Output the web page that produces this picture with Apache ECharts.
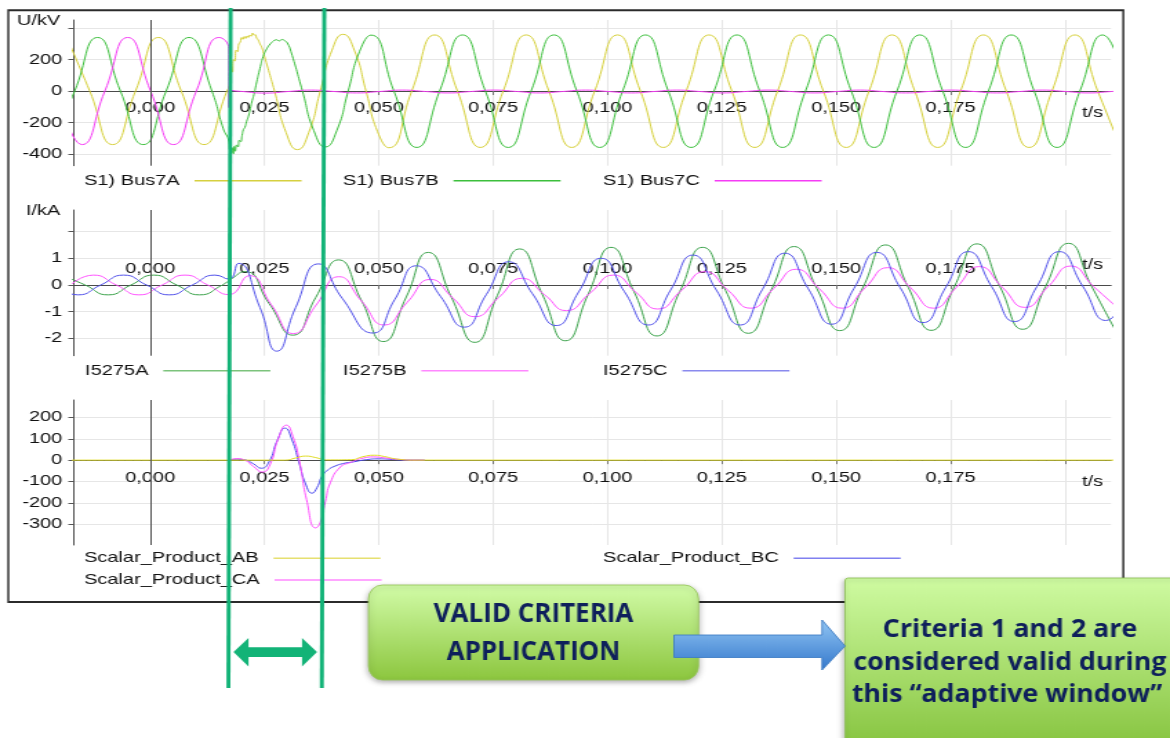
<!DOCTYPE html>
<html>
<head>
<meta charset="utf-8">
<script src="https://cdn.jsdelivr.net/npm/echarts@6/dist/echarts.min.js"></script>
<style>
  html, body { margin: 0; padding: 0; background: #fff; overflow: hidden; }
  #wrap { width: 1170px; height: 738px; overflow: hidden; position: relative; }
  /* the recorder screenshot is stretched horizontally, so the chart layer is too */
  #chart { width: 848px; height: 738px; transform: scaleX(1.379717); transform-origin: 0 0; }
</style>
</head>
<body>
<div id="wrap"><div id="chart"></div></div>
<script>
// ---- axis ticks and labels ----
const timeTicks  = [0, 0.025, 0.05, 0.075, 0.1, 0.125, 0.15, 0.175, 0.2];
const timeLabels = [0, 0.025, 0.05, 0.075, 0.1, 0.125, 0.15, 0.175];
const voltTicks  = [-400, -200, 0, 200, 400];
const voltLabels = [-400, -200, 0, 200];
const ampTicks   = [-2, -1, 0, 1, 2];
const ampLabels  = [-2, -1, 0, 1];
const prodTicks  = [-300, -200, -100, 0, 100, 200];

// ---- bus voltages, kV  [t (s), u] ----
const bus7A = [
  [-0.0182, 340], [-0.0132, 0], [-0.0082, -340], [-0.0032, 0], [0.0018, 340], [0.0068, 0], [0.0118, -340], [0.0168, 0],
  [0.0172, 25], [0.0175, 60], [0.0178, 150], [0.0180, 120], [0.0182, 200], [0.0185, 190], [0.0188, 260], [0.0191, 250],
  [0.0194, 300], [0.0197, 310], [0.0200, 340], [0.0203, 328], [0.0206, 346], [0.0209, 334], [0.0212, 350], [0.0215, 340],
  [0.0218, 356], [0.0221, 348], [0.0224, 368], [0.0227, 355], [0.0230, 358], [0.0233, 335], [0.0236, 326], [0.0240, 300],
  [0.0244, 278], [0.0248, 240],
  [0.0272, 0], [0.0297, -262], [0.0322, -372], [0.0347, -262], [0.0372, 0], [0.0397, 255], [0.0422, 360], [0.0447, 255],
  [0.0472, 0], [0.0497, -256], [0.0522, -360],
  [0.0572, 0], [0.0622, 356], [0.0672, 0], [0.0722, -358], [0.0772, 0], [0.0822, 356], [0.0872, 0], [0.0922, -358],
  [0.0972, 0], [0.1022, 356], [0.1072, 0], [0.1122, -358], [0.1172, 0], [0.1222, 356], [0.1272, 0], [0.1322, -358],
  [0.1372, 0], [0.1422, 356], [0.1472, 0], [0.1522, -358], [0.1572, 0], [0.1622, 356], [0.1672, 0], [0.1722, -358],
  [0.1772, 0], [0.1822, 356], [0.1872, 0], [0.1922, -358], [0.1972, 0], [0.2022, 356], [0.2072, 0], [0.2122, -358]
];
const bus7B = [
  [-0.0215, -340], [-0.0165, 0], [-0.0115, 340], [-0.0065, 0], [-0.0015, -340], [0.0035, 0], [0.0085, 340], [0.0135, 0],
  [0.0160, -240], [0.0172, -318],
  [0.0174, -372], [0.0176, -346], [0.0178, -392], [0.0180, -360], [0.0182, -398], [0.0184, -352], [0.0186, -382],
  [0.0189, -342], [0.0192, -355], [0.0195, -312], [0.0198, -322], [0.0201, -282], [0.0204, -244], [0.0207, -232],
  [0.0211, -192], [0.0215, -160], [0.0219, -112], [0.0223, -62], [0.0227, -22], [0.0233, 58], [0.0240, 142],
  [0.0247, 218], [0.0255, 268], [0.0263, 300], [0.0270, 318], [0.0276, 326], [0.0282, 318], [0.0288, 327],
  [0.0294, 320], [0.0300, 305],
  [0.0308, 250], [0.0333, 0], [0.0358, -252], [0.0383, -355], [0.0408, -252], [0.0433, 0], [0.0458, 252], [0.0483, 355],
  [0.0533, 0], [0.0583, -358], [0.0633, 0], [0.0683, 356], [0.0733, 0], [0.0783, -358], [0.0833, 0], [0.0883, 356],
  [0.0933, 0], [0.0983, -358], [0.1033, 0], [0.1083, 356], [0.1133, 0], [0.1183, -358], [0.1233, 0], [0.1283, 356],
  [0.1333, 0], [0.1383, -358], [0.1433, 0], [0.1483, 356], [0.1533, 0], [0.1583, -358], [0.1633, 0], [0.1683, 356],
  [0.1733, 0], [0.1783, -358], [0.1833, 0], [0.1883, 356], [0.1933, 0], [0.1983, -358], [0.2033, 0], [0.2083, 356],
  [0.2133, 0]
];
const bus7C = [
  [-0.0199, 0], [-0.0149, -340], [-0.0099, 0], [-0.0049, 340], [0.0001, 0], [0.0051, -340], [0.0101, 0], [0.0151, 340],
  [0.0172, 268], [0.01722, -105], [0.0174, 8], [0.0178, 4],
  [0.0202, -3], [0.0252, -13], [0.0302, -3], [0.0352, 6], [0.0402, -3], [0.0452, -12], [0.0502, -3], [0.0552, 6],
  [0.0602, -3], [0.0652, -12], [0.0702, -3], [0.0752, 6], [0.0802, -3], [0.0852, -12], [0.0902, -3], [0.0952, 6],
  [0.1002, -3], [0.1052, -12], [0.1102, -3], [0.1152, 6], [0.1202, -3], [0.1252, -12], [0.1302, -3], [0.1352, 6],
  [0.1402, -3], [0.1452, -12], [0.1502, -3], [0.1552, 6], [0.1602, -3], [0.1652, -12], [0.1702, -3], [0.1752, 6],
  [0.1802, -3], [0.1852, -12], [0.1902, -3], [0.1952, 6], [0.2002, -3], [0.2052, -12], [0.2102, -3], [0.2152, 6]
];

// ---- line currents, kA  [t (s), i] ----
const i5275A = [
  [-0.0192, 0.37], [-0.0142, 0], [-0.0092, -0.37], [-0.0042, 0], [0.0008, 0.37], [0.0058, 0], [0.0108, -0.37],
  [0.0158, 0], [0.0172, 0.16],
  [0.0207, 0.5], [0.0260, -0.69], [0.0312, -1.88], [0.0362, -0.47], [0.0412, 0.94], [0.0462, -0.58], [0.0510, -2.12],
  [0.0560, -0.45], [0.0608, 1.22], [0.0659, -0.47], [0.0710, -2.15], [0.0759, -0.4], [0.0808, 1.35], [0.0858, -0.37],
  [0.0908, -2.09], [0.0958, -0.34], [0.1008, 1.41], [0.1058, -0.25], [0.1108, -1.91], [0.1158, -0.25], [0.1208, 1.41],
  [0.1258, -0.2], [0.1308, -1.81], [0.1358, -0.19], [0.1408, 1.44], [0.1458, -0.14], [0.1508, -1.71], [0.1558, -0.11],
  [0.1608, 1.5], [0.1658, -0.1], [0.1708, -1.7], [0.1758, -0.08], [0.1808, 1.54], [0.1858, -0.06], [0.1908, -1.66],
  [0.1958, -0.05], [0.2008, 1.56], [0.2058, -0.03], [0.2108, -1.62]
];
const i5275B = [
  [-0.0174, 0], [-0.0124, 0.37], [-0.0074, 0], [-0.0024, -0.37], [0.0026, 0], [0.0076, 0.37], [0.0126, 0],
  [0.0172, -0.36],
  [0.0217, 0.35], [0.0265, -0.74], [0.0313, -1.82], [0.0363, -0.75], [0.0413, 0.31], [0.0462, -0.6], [0.0512, -1.5],
  [0.0562, -0.65], [0.0613, 0.21], [0.0662, -0.49], [0.0710, -1.19], [0.0762, -0.47], [0.0813, 0.25], [0.0862, -0.36],
  [0.0910, -0.96], [0.0962, -0.3], [0.1013, 0.37], [0.1062, -0.27], [0.1110, -0.9], [0.1162, -0.2], [0.1213, 0.5],
  [0.1263, -0.19], [0.1313, -0.87], [0.1363, -0.14], [0.1413, 0.59], [0.1463, -0.14], [0.1513, -0.87], [0.1563, -0.11],
  [0.1613, 0.65], [0.1663, -0.11], [0.1713, -0.87], [0.1763, -0.09], [0.1813, 0.69], [0.1863, -0.08], [0.1913, -0.84],
  [0.1963, -0.07], [0.2013, 0.71], [0.2063, -0.06], [0.2113, -0.82]
];
const i5275C = [
  [-0.0208, 0], [-0.0158, -0.37], [-0.0108, 0], [-0.0058, 0.37], [-0.0008, 0], [0.0042, -0.37], [0.0092, 0],
  [0.0142, 0.37], [0.0172, 0.22],
  [0.0193, 0.81], [0.0240, -0.84], [0.0277, -2.48], [0.0318, -0.85], [0.0368, 0.79], [0.0420, -0.5], [0.0487, -1.8],
  [0.0535, -0.54], [0.0582, 0.72], [0.0635, -0.43], [0.0687, -1.58], [0.0735, -0.36], [0.0784, 0.87], [0.0836, -0.33],
  [0.0888, -1.52], [0.0937, -0.26], [0.0986, 1.0], [0.1037, -0.25], [0.1089, -1.5], [0.1138, -0.19], [0.1187, 1.12],
  [0.1238, -0.19], [0.1290, -1.5], [0.1339, -0.16], [0.1388, 1.19], [0.1439, -0.14], [0.1490, -1.47], [0.1539, -0.13],
  [0.1589, 1.22], [0.1640, -0.1], [0.1690, -1.41], [0.1740, -0.08], [0.1789, 1.25], [0.1840, -0.06], [0.1890, -1.37],
  [0.1939, -0.06], [0.1988, 1.25], [0.2039, -0.04], [0.2090, -1.33], [0.2140, -0.04]
];

// ---- scalar products  [t (s), p] ----
const scalarAB = [
  [-0.02, 0], [0.0295, 0], [0.0318, 10], [0.0340, 19], [0.0362, 12], [0.0385, 1], [0.0440, 2], [0.0465, 16],
  [0.0490, 23], [0.0512, 17], [0.0540, 5], [0.0580, 0], [0.215, 0]
];
const scalarBC = [
  [0.0172, 0], [0.0188, 4], [0.0205, 2], [0.0225, -16], [0.0243, -38], [0.0260, -8], [0.0278, 92], [0.0295, 150],
  [0.0310, 96], [0.0325, -8], [0.0340, -112], [0.0354, -155], [0.0365, -128], [0.0376, -75], [0.0390, -44],
  [0.0402, -30], [0.0422, -16], [0.0445, -8], [0.0472, 2], [0.0500, 6], [0.0530, 3], [0.0560, 0], [0.0600, 0]
];
const scalarCA = [
  [0.0172, 0], [0.0190, 7], [0.0207, 0], [0.0226, -30], [0.0245, -56], [0.0262, -22], [0.0280, 100], [0.0298, 164],
  [0.0312, 112], [0.0326, 0], [0.0342, -185], [0.0362, -318], [0.0372, -292], [0.0383, -196], [0.0394, -106],
  [0.0416, -32], [0.0437, -12], [0.0467, 10], [0.0488, 15], [0.0510, 11], [0.0540, 4], [0.0580, 0], [0.0600, 0]
];

// ---- layout helpers ----
const S = 1170 / 848;            // horizontal stretch of the chart layer
const px = v => v / S;           // page x -> chart x
const FONT = '"Liberation Sans", Arial, sans-serif';
const BOXFONT = '"Open Sans", "Noto Sans", sans-serif';
const INK = '#0e1f5b';
const EDGE = '#12b377';
const GRID_L = px(73.3), GRID_R = 848 - px(1111);

// panel frames: [top, height, yMin, yMax]
const panels = [
  [20, 145.7, -474, 451],
  [210, 145.7, -2.65, 2.81],
  [400, 145, -398, 282]
];
// distance from the grid bottom up to the zero line, used to lift each time axis onto u = 0
const zeroLift = panels.map(([top, h, lo, hi]) => -(h * (0 - lo) / (hi - lo)));

const chart = echarts.init(document.getElementById('chart'), null, { renderer: 'canvas' });

function timeAxis(gi, margin, inside, nameVAlign, namePad) {
  return {
    type: 'value', gridIndex: gi, min: -0.0168, max: 0.2101, position: 'bottom', offset: zeroLift[gi],
    axisLine: { onZero: false, lineStyle: { color: '#4a4a4a', width: 1 } },
    axisTick: { show: true, customValues: timeTicks, length: 4, lineStyle: { color: '#777' } },
    axisLabel: {
      customValues: timeLabels, inside: inside, margin: margin, color: '#111',
      fontFamily: FONT, fontSize: 14.5, formatter: v => v.toFixed(3).replace('.', ',')
    },
    splitLine: { show: true, lineStyle: { color: '#e6e6e6', width: 1 } },
    name: 't/s', nameLocation: 'end', nameGap: -5.8, nameMoveOverlap: false,
    nameTextStyle: { fontFamily: FONT, fontSize: 14.5, color: '#111', align: 'right', verticalAlign: nameVAlign, padding: namePad }
  };
}

function valueAxis(gi, ticks, labels, name) {
  const [, , lo, hi] = panels[gi];
  return {
    type: 'value', gridIndex: gi, min: lo, max: hi,
    axisLine: { show: true, onZero: false, lineStyle: { color: '#555', width: 1 } },
    axisTick: { show: true, customValues: ticks, length: px(5), lineStyle: { color: '#555' } },
    axisLabel: { customValues: labels, margin: px(11), color: '#111', fontFamily: FONT, fontSize: 14.5 },
    splitLine: { show: true, lineStyle: { color: '#e6e6e6', width: 1 } },
    name: name, nameLocation: 'end', nameGap: -1, nameMoveOverlap: false,
    nameTextStyle: { fontFamily: FONT, fontSize: 14.5, color: '#111', align: 'right', verticalAlign: 'middle', padding: [0, px(13), 0, 0] }
  };
}

function wave(name, data, gi, color, withZeroLine) {
  const s = {
    name: name, type: 'line', xAxisIndex: gi, yAxisIndex: gi, data: data,
    showSymbol: false, symbol: 'none', smooth: 0.55, animation: false,
    lineStyle: { color: color, width: 1 }, itemStyle: { color: color }
  };
  if (withZeroLine) {
    s.markLine = {
      silent: true, symbol: ['none', 'none'], label: { show: false }, animation: false,
      lineStyle: { color: '#555', width: 1, type: 'solid' }, data: [{ xAxis: 0 }]
    };
  }
  return s;
}

function legendAt(name, xPage, yMid, color) {
  return {
    data: [{ name: name, itemStyle: { color: color } }], left: px(xPage), top: yMid - 8.5, padding: 0,
    align: 'right', icon: 'rect', itemWidth: px(107), itemHeight: 1.6, selectedMode: false,
    textStyle: { fontFamily: FONT, fontSize: 14.5, color: '#111', padding: [0, px(8), 0, 0] }
  };
}

function vgrad(top, bottom) {
  return { type: 'linear', x: 0, y: 0, x2: 0, y2: 1, colorStops: [{ offset: 0, color: top }, { offset: 1, color: bottom }] };
}

function boxText(text, x, y, size, sx) {
  return { type: 'text', x: x, y: y, z: 22, scaleX: sx || 1,
    style: { text: text, fill: INK, font: 'bold ' + size + 'px ' + BOXFONT, align: 'center', verticalAlign: 'middle' } };
}

// annotation layer, drawn in page pixels (the group undoes the stretch)
const overlay = [
  { type: 'rect', z: 20, shape: { x: 8.3, y: 10.3, width: 1115, height: 591.7 },
    style: { fill: 'none', stroke: '#2b2b2b', lineWidth: 2 } },
  { type: 'line', z: 20, shape: { x1: 230.6, y1: 8, x2: 228.4, y2: 688 }, style: { stroke: EDGE, lineWidth: 4 } },
  { type: 'line', z: 20, shape: { x1: 324.3, y1: 8, x2: 321.8, y2: 688 }, style: { stroke: EDGE, lineWidth: 4 } },
  { type: 'polygon', z: 20, shape: { points: [[233.5, 652], [248.5, 638], [248.5, 647.3], [302, 647.3], [302, 638], [317, 652],
      [302, 666.5], [302, 657], [248.5, 657], [248.5, 666.5]] }, style: { fill: EDGE } },
  { type: 'rect', z: 20, shape: { x: 368.5, y: 585, width: 330, height: 95, r: 14 },
    style: { fill: vgrad('#d2fca8', '#8cc63e'), stroke: '#97c65c', lineWidth: 1,
      shadowBlur: 5, shadowOffsetY: 2, shadowColor: 'rgba(0,0,0,0.3)' } },
  boxText('VALID CRITERIA', 533.5, 615, 26),
  boxText('APPLICATION', 533.5, 652.7, 26),
  { type: 'polygon', z: 21, shape: { points: [[674, 635], [822, 635], [822, 620], [845, 646], [822, 670], [822, 657.5], [674, 657.5]] },
    style: { fill: vgrad('#92c6f4', '#3478cc'), stroke: '#3c7cc4', lineWidth: 1 } },
  { type: 'rect', z: 20, shape: { x: 845, y: 578, width: 340, height: 175, r: [3, 0, 0, 0] },
    style: { fill: vgrad('#cffba2', '#84c23c'), stroke: '#8fbf5a', lineWidth: 1,
      shadowBlur: 4, shadowOffsetX: -1, shadowOffsetY: 2, shadowColor: 'rgba(0,0,0,0.25)' } },
  boxText('Criteria 1 and 2 are', 1010, 630, 25, 1.07),
  boxText('considered valid during', 1010, 663.3, 25, 1.07),
  boxText('this \u201cadaptive window\u201d', 1007, 695, 25, 1.07)
];

const option = {
  animation: false,
  backgroundColor: '#ffffff',
  grid: panels.map(([top, h]) => ({ left: GRID_L, right: GRID_R, top: top, height: h, containLabel: false, outerBoundsMode: 'none' })),
  xAxis: [
    timeAxis(0, 9.3, false, 'top', [14, 0, 0, 0]),
    timeAxis(1, 8.7, true, 'bottom', [0, 0, 12, 0]),
    timeAxis(2, 10, false, 'top', [14.4, 0, 0, 0])
  ],
  yAxis: [
    valueAxis(0, voltTicks, voltLabels, 'U/kV'),
    valueAxis(1, ampTicks, ampLabels, 'I/kA'),
    valueAxis(2, prodTicks, prodTicks, '')
  ],
  legend: [
    legendAt('S1) Bus7A', 84, 181.7, '#d6d040'),
    legendAt('S1) Bus7B', 343, 181.7, '#3cbf3c'),
    legendAt('S1) Bus7C', 603, 181.7, '#f53cf5'),
    legendAt('I5275A', 85, 371.7, '#7cc37c'),
    legendAt('I5275B', 343, 371.7, '#ff88ff'),
    legendAt('I5275C', 603, 371.7, '#8a8aee'),
    legendAt('Scalar_Product_AB', 84, 559.3, '#e6e070'),
    legendAt('Scalar_Product_CA', 84, 581, '#ff88ff'),
    legendAt('Scalar_Product_BC', 603, 559.3, '#8080f0')
  ],
  series: [
    wave('S1) Bus7A', bus7A, 0, '#d6d03a', true),
    wave('S1) Bus7B', bus7B, 0, '#3cbf3c', false),
    wave('S1) Bus7C', bus7C, 0, '#f53cf5', false),
    wave('I5275A', i5275A, 1, '#3aa24a', true),
    wave('I5275B', i5275B, 1, '#ff55ff', false),
    wave('I5275C', i5275C, 1, '#5252ea', false),
    wave('Scalar_Product_BC', scalarBC, 2, '#4a4af0', true),
    wave('Scalar_Product_CA', scalarCA, 2, '#ff50ff', false),
    wave('Scalar_Product_AB', scalarAB, 2, '#e0dc24', false)
  ],
  graphic: [{ type: 'group', x: 0, y: 0, scaleX: 1 / S, z: 20, children: overlay }]
};

chart.setOption(option);
</script>
</body>
</html>
